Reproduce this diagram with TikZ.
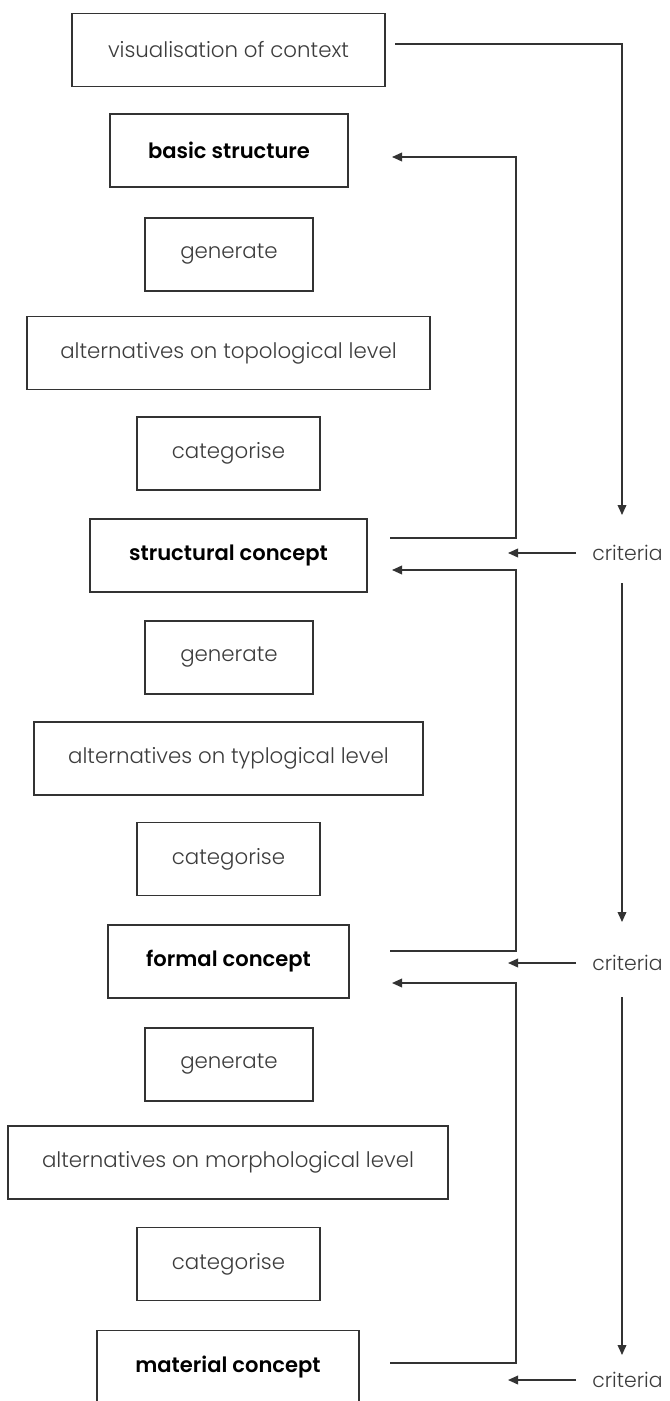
\documentclass[tikz,border=0pt]{standalone}
\usepackage{fontspec}
\setmainfont{Poppins}[UprightFont={* Light},BoldFont={* SemiBold}]
\usetikzlibrary{arrows.meta}
\definecolor{ink}{HTML}{333333}
\definecolor{txt}{HTML}{3C3C3C}
\tikzset{
  stepbox/.style={draw=ink,line width=1.1pt,rectangle,minimum height=55pt,
    inner sep=0pt,text=txt,font=\fontsize{16pt}{19pt}\selectfont},
  keybox/.style={stepbox,text=black,font=\fontsize{15.8pt}{19pt}\selectfont\bfseries},
  label/.style={text=txt,font=\fontsize{15.3pt}{18pt}\selectfont,inner sep=0pt},
  conn/.style={draw=ink,line width=1.1pt},
  arr/.style={conn,-{Triangle[length=7.5pt,width=6.5pt]}}
}
\begin{document}
\begin{tikzpicture}[x=0.75pt,y=-0.75pt]
\useasboundingbox (0,0) rectangle (669,1401);

% process column
\node[stepbox,minimum width=313*0.75pt] (vis)   at (228.5,50)   {visualisation of context};
\node[keybox, minimum width=238*0.75pt] (basic) at (229,150.5)  {basic structure};
\node[stepbox,minimum width=168*0.75pt] (gen1)  at (229,254.5)  {generate};
\node[stepbox,minimum width=403*0.75pt] (alt1)  at (228.5,353)  {alternatives on topological level};
\node[stepbox,minimum width=183*0.75pt] (cat1)  at (228.5,453.5){categorise};
\node[keybox, minimum width=277*0.75pt] (struc) at (228.5,555.5){structural concept};
\node[stepbox,minimum width=168*0.75pt] (gen2)  at (229,657.5)  {generate};
\node[stepbox,minimum width=389*0.75pt] (alt2)  at (228.5,758.5){alternatives on typlogical level};
\node[stepbox,minimum width=183*0.75pt] (cat2)  at (228.5,859)  {categorise};
\node[keybox, minimum width=241*0.75pt] (form)  at (228.5,961.5){formal concept};
\node[stepbox,minimum width=168*0.75pt] (gen3)  at (229,1064.5) {generate};
\node[stepbox,minimum width=440*0.75pt] (alt3)  at (228,1162.5) {alternatives on morphological level};
\node[stepbox,minimum width=183*0.75pt] (cat3)  at (228.5,1264) {categorise};
\node[keybox, minimum width=262*0.75pt] (mat)   at (228,1367)   {material concept};

% criteria labels
\node[label,anchor=west] (crit1) at (592,553)  {criteria};
\node[label,anchor=west] (crit2) at (592,963)  {criteria};
\node[label,anchor=west] (crit3) at (592,1380) {criteria};

% connector end points
\coordinate (visout) at (395,44);
\coordinate (c1top) at (622,515);
\coordinate (c1bot) at (622,583);
\coordinate (c2top) at (622,922);
\coordinate (c2bot) at (622,997);
\coordinate (c3top) at (622,1355);
\coordinate (basicin) at (392,157);
\coordinate (strucout) at (390,538);
\coordinate (strucin) at (392,570);
\coordinate (formout) at (390,951);
\coordinate (formin) at (392,983);
\coordinate (matout) at (390,1363);

% context feeds the criteria chain
\draw[arr] (visout) -| (c1top);
\draw[arr] (c1bot) -- (c2top);
\draw[arr] (c2bot) -- (c3top);

% criteria point back to the concepts
\draw[arr] ([xshift=-12]crit1.west) -- ++(-68,0);
\draw[arr] ([xshift=-12]crit2.west) -- ++(-68,0);
\draw[arr] ([xshift=-12]crit3.west) -- ++(-68,0);

% feedback loops
\draw[arr] (strucout) -- (516,538) |- (basicin);
\draw[arr] (formout) -- (516,951) |- (strucin);
\draw[arr] (matout) -- (516,1363) |- (formin);
\end{tikzpicture}
\end{document}
